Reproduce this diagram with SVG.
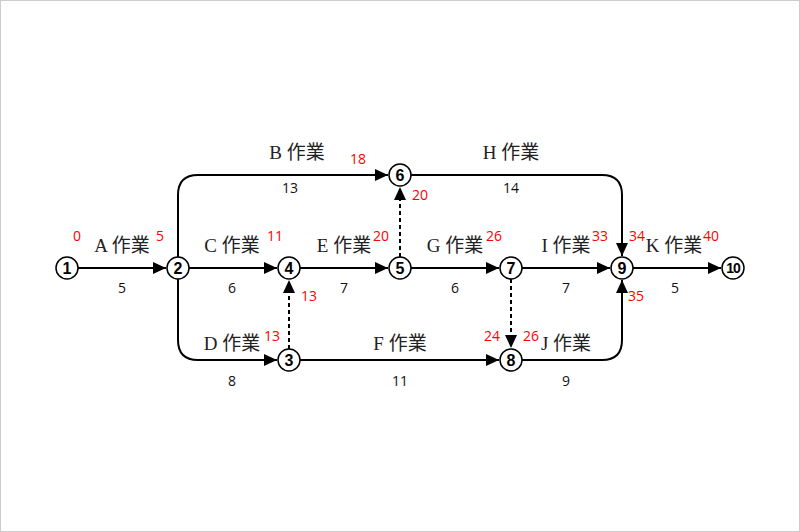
<svg xmlns="http://www.w3.org/2000/svg" width="800" height="532" viewBox="0 0 800 532">
<style>
.e{fill:none;stroke:#000;stroke-width:2}
.d{fill:none;stroke:#000;stroke-width:2;stroke-dasharray:4 3}
.n circle{fill:#fff;stroke:#000;stroke-width:1.5}
.n text{font-family:"Liberation Sans","DejaVu Sans",sans-serif;font-weight:bold;font-size:16px;text-anchor:middle;fill:#000}
.lab{font-family:"Liberation Serif","Noto Sans CJK JP",serif;font-size:19px;text-anchor:middle;fill:#222}
.num{font-family:"Open Sans","Liberation Sans",sans-serif;font-size:14px;text-anchor:middle;fill:#111}
.red{font-family:"Open Sans","Liberation Sans",sans-serif;font-size:14px;text-anchor:middle;fill:#f00}
</style>
<defs>
<marker id="ah" markerUnits="userSpaceOnUse" markerWidth="14" markerHeight="12" refX="13" refY="6" orient="auto">
<path d="M0,0 L13,6 L0,12 Z" fill="#000"/>
</marker>
</defs>
<rect x="0.5" y="0.5" width="799" height="531" fill="#fff" stroke="#ccc"/>
<g id="connectors">
<path class="e" d="M78,268 H166" marker-end="url(#ah)"/>
<path class="e" d="M178,257 V195 Q178,175 198,175 H388" marker-end="url(#ah)"/>
<path class="e" d="M411,175 H602 Q622,175 622,195 V256" marker-end="url(#ah)"/>
<path class="e" d="M189,268 H277" marker-end="url(#ah)"/>
<path class="e" d="M300,268 H388" marker-end="url(#ah)"/>
<path class="d" d="M400,257 V187" marker-end="url(#ah)"/>
<path class="e" d="M411,268 H499" marker-end="url(#ah)"/>
<path class="e" d="M522,268 H610" marker-end="url(#ah)"/>
<path class="e" d="M633,268 H721" marker-end="url(#ah)"/>
<path class="e" d="M178,279 V340 Q178,360 198,360 H277" marker-end="url(#ah)"/>
<path class="d" d="M289,349 V280" marker-end="url(#ah)"/>
<path class="e" d="M300,360 H499" marker-end="url(#ah)"/>
<path class="d" d="M511,279 V348" marker-end="url(#ah)"/>
<path class="e" d="M522,360 H602 Q622,360 622,340 V280" marker-end="url(#ah)"/>
</g>
<g id="n1" class="n"><circle cx="67" cy="268" r="11"/><text x="67" y="273.5">1</text></g>
<g id="n2" class="n"><circle cx="178" cy="268" r="11"/><text x="178" y="273.5">2</text></g>
<g id="n3" class="n"><circle cx="289" cy="360" r="11"/><text x="289" y="365.5">3</text></g>
<g id="n4" class="n"><circle cx="289" cy="268" r="11"/><text x="289" y="273.5">4</text></g>
<g id="n5" class="n"><circle cx="400" cy="268" r="11"/><text x="400" y="273.5">5</text></g>
<g id="n6" class="n"><circle cx="400" cy="175" r="11"/><text x="400" y="180.5">6</text></g>
<g id="n7" class="n"><circle cx="511" cy="268" r="11"/><text x="511" y="273.5">7</text></g>
<g id="n8" class="n"><circle cx="511" cy="360" r="11"/><text x="511" y="365.5">8</text></g>
<g id="n9" class="n"><circle cx="622" cy="268" r="11"/><text x="622" y="273.5">9</text></g>
<g id="n10" class="n"><circle cx="733" cy="268" r="11"/><text x="733" y="273" style="font-size:14px;letter-spacing:-1px">10</text></g>
<g id="labels">
<text class="lab" x="122" y="252">A 作業</text>
<text class="lab" x="297" y="159">B 作業</text>
<text class="lab" x="511" y="159">H 作業</text>
<text class="lab" x="232" y="252">C 作業</text>
<text class="lab" x="344" y="252">E 作業</text>
<text class="lab" x="455" y="252">G 作業</text>
<text class="lab" x="566" y="252">I 作業</text>
<text class="lab" x="674" y="252">K 作業</text>
<text class="lab" x="232" y="350">D 作業</text>
<text class="lab" x="400" y="350">F 作業</text>
<text class="lab" x="566" y="350">J 作業</text>
<text class="num" x="122" y="293">5</text>
<text class="num" x="290" y="193">13</text>
<text class="num" x="511" y="193">14</text>
<text class="num" x="232" y="293">6</text>
<text class="num" x="344" y="293">7</text>
<text class="num" x="455" y="293">6</text>
<text class="num" x="566" y="293">7</text>
<text class="num" x="675" y="293">5</text>
<text class="num" x="232" y="386">8</text>
<text class="num" x="400" y="386">11</text>
<text class="num" x="566" y="386">9</text>
<text class="red" x="77" y="241">0</text>
<text class="red" x="160" y="241">5</text>
<text class="red" x="358" y="164">18</text>
<text class="red" x="420" y="200">20</text>
<text class="red" x="275" y="241">11</text>
<text class="red" x="381" y="241">20</text>
<text class="red" x="494" y="241">26</text>
<text class="red" x="600" y="241">33</text>
<text class="red" x="637" y="241">34</text>
<text class="red" x="711" y="241">40</text>
<text class="red" x="636" y="301">35</text>
<text class="red" x="309" y="301">13</text>
<text class="red" x="272" y="341">13</text>
<text class="red" x="492" y="341">24</text>
<text class="red" x="531" y="341">26</text>
</g>
</svg>
